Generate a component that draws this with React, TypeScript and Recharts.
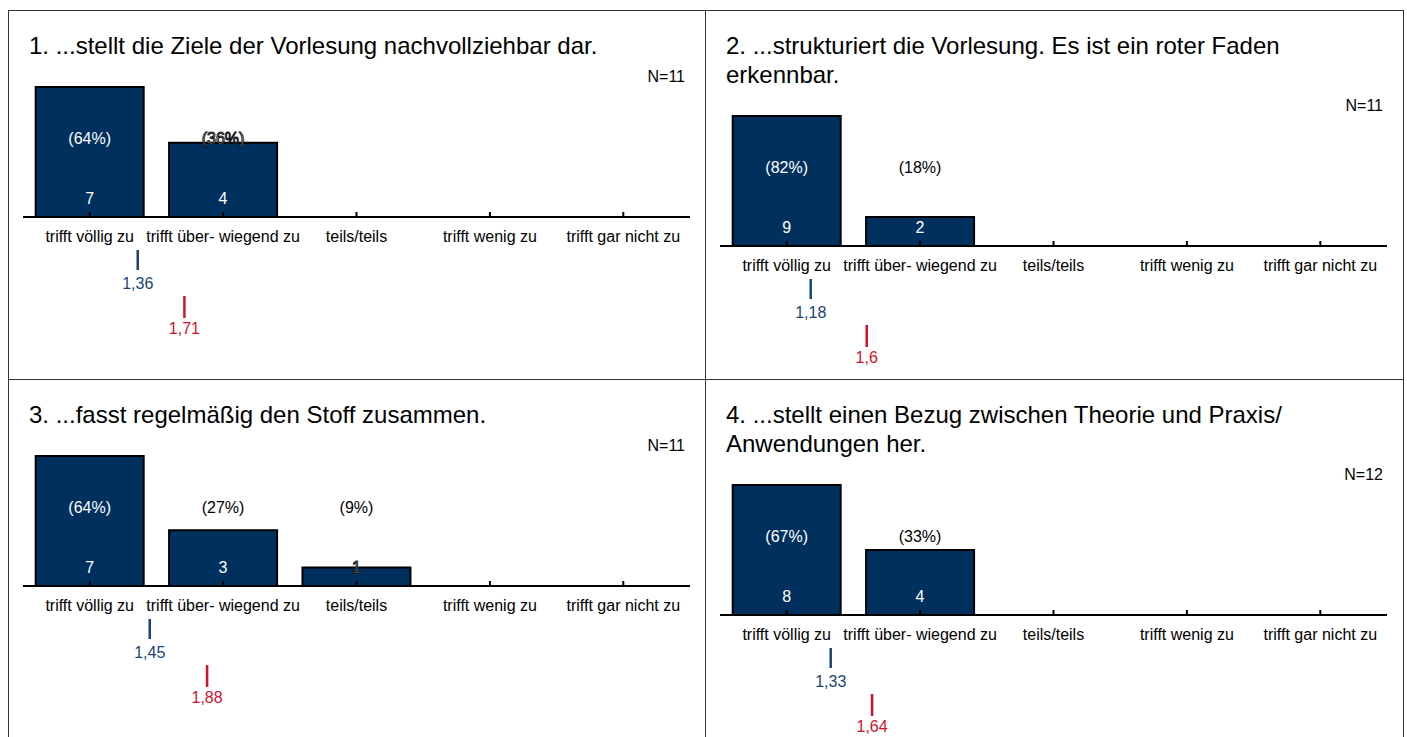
import React from "react";
import { ComposedChart, Bar, XAxis, YAxis, LabelList, ReferenceLine } from "recharts";

const categories = [
  "trifft völlig zu",
  "trifft über- wiegend zu",
  "teils/teils",
  "trifft wenig zu",
  "trifft gar nicht zu",
];
const positions = [1, 2, 3, 4, 5];

const titles = [
  ["1. ...stellt die Ziele der Vorlesung nachvollziehbar dar."],
  ["2. ...strukturiert die Vorlesung. Es ist ein roter Faden", "erkennbar."],
  ["3. ...fasst regelmäßig den Stoff zusammen."],
  ["4. ...stellt einen Bezug zwischen Theorie und Praxis/", "Anwendungen her."],
];

const counts = [
  [7, 4, 0, 0, 0],
  [9, 2, 0, 0, 0],
  [7, 3, 1, 0, 0],
  [8, 4, 0, 0, 0],
];

const percents = [
  [64, 36, 0, 0, 0],
  [82, 18, 0, 0, 0],
  [64, 27, 9, 0, 0],
  [67, 33, 0, 0, 0],
];

const totals = [11, 11, 11, 12];
const means = [1.36, 1.18, 1.45, 1.33];
const compareMeans = [1.71, 1.6, 1.88, 1.64];

const FONT = '"Liberation Sans", Arial, sans-serif';
const BAR = "#00305e";
const BLUE = "#1b4575";
const RED = "#d4122c";

const fmt = (v: number) => String(v).replace(".", ",");

const CatTick = (props: any) => {
  const { x, y, payload } = props;
  return (
    <g>
      <line x1={x} x2={x} y1={y - 5} y2={y} stroke="#000" strokeWidth={2} />
      <text x={x} y={y + 25} textAnchor="middle" fontSize={16} fill="#000" fontFamily={FONT}>
        {payload.value}
      </text>
    </g>
  );
};

// label drawn at a fixed distance above the axis, coloured by whether it sits on the bar
const barLabel = (offset: number, wrap: (v: any) => string) => (props: any) => {
  const vb = props.viewBox || props;
  const { x, y, width, height } = vb;
  const value = props.value;
  if (!value) return null;
  const axisY = y + height;
  const cy = axisY - offset;
  let fill = "#000";
  let stroke: string | undefined;
  if (cy - 6 > y) fill = "#fff";
  else if (cy + 6 >= y) {
    fill = "#fff";
    stroke = "#111";
  }
  return (
    <text
      x={x + width / 2}
      y={cy + 6}
      textAnchor="middle"
      fontSize={16}
      fontFamily={FONT}
      fill={fill}
      stroke={stroke}
      strokeWidth={stroke ? 1 : 0}
    >
      {wrap(value)}
    </text>
  );
};

const marker = (value: number, color: string, y1: number, y2: number, ty: number) => (p: any) => {
  const axisY = Math.max(p.y1, p.y2);
  return (
    <g>
      <line x1={p.x1} x2={p.x1} y1={axisY + y1} y2={axisY + y2} stroke={color} strokeWidth={2.5} />
      <text x={p.x1} y={axisY + ty} textAnchor="middle" fontSize={16} fontFamily={FONT} fill={color}>
        {fmt(value)}
      </text>
    </g>
  );
};

const Panel = ({ i, left, top, width, right }: { i: number; left: number; top: number; width: number; right?: boolean }) => {
  const shift = (titles[i].length - 1) * 29;
  const data = categories.map((c, k) => ({ cat: c, pos: positions[k], count: counts[i][k], pct: percents[i][k] }));
  return (
    <div
      style={{
        position: "absolute",
        left,
        top,
        width,
        height: 369,
        boxSizing: "border-box",
        borderLeft: "1px solid #333",
        borderTop: "1px solid #333",
        borderRight: right ? "1px solid #333" : undefined,
      }}
    >
      <div style={{ position: "absolute", left: 20, top: 20, fontSize: 24, lineHeight: "29px", whiteSpace: "nowrap" }}>
        {titles[i].map((t) => (
          <div key={t}>{t}</div>
        ))}
      </div>
      <div style={{ position: "absolute", right: 20, top: 57 + shift, fontSize: 16, lineHeight: "18px" }}>
        N={totals[i]}
      </div>
      <div style={{ position: "absolute", left: 0, top: shift }}>
        <ComposedChart
          width={696}
          height={340}
          data={data}
          margin={{ top: 76, right: 15, bottom: 104, left: 14 }}
          barCategoryGap="9.5%"
        >
          <XAxis
            xAxisId="cat"
            dataKey="cat"
            interval={0}
            tickLine={false}
            tickSize={0}
            tickMargin={0}
            axisLine={{ stroke: "#000", strokeWidth: 2 }}
            tick={<CatTick />}
            height={30}
          />
          <XAxis xAxisId="mean" dataKey="pos" type="number" domain={[0.5, 5.5]} allowDataOverflow hide />
          <YAxis domain={[0, "dataMax"]} hide />
          <Bar xAxisId="cat" dataKey="count" fill={BAR} stroke="#000" strokeWidth={2} isAnimationActive={false}>
            <LabelList dataKey="count" content={barLabel(19, (v) => String(v))} />
            <LabelList dataKey="pct" content={barLabel(79, (v) => `(${v}%)`)} />
          </Bar>
          <ReferenceLine xAxisId="mean" x={means[i]} shape={marker(means[i], BLUE, 33, 53, 72)} />
          <ReferenceLine xAxisId="mean" x={compareMeans[i]} shape={marker(compareMeans[i], RED, 79, 101, 117)} />
        </ComposedChart>
      </div>
    </div>
  );
};

export default function App() {
  return (
    <div
      style={{
        position: "absolute",
        left: 8,
        top: 10,
        width: 1396,
        height: 727,
        overflow: "hidden",
        fontFamily: FONT,
        color: "#000",
        background: "#fff",
      }}
    >
      <Panel i={0} left={0} top={0} width={697} />
      <Panel i={1} left={697} top={0} width={699} right />
      <Panel i={2} left={0} top={369} width={697} />
      <Panel i={3} left={697} top={369} width={699} right />
    </div>
  );
}
